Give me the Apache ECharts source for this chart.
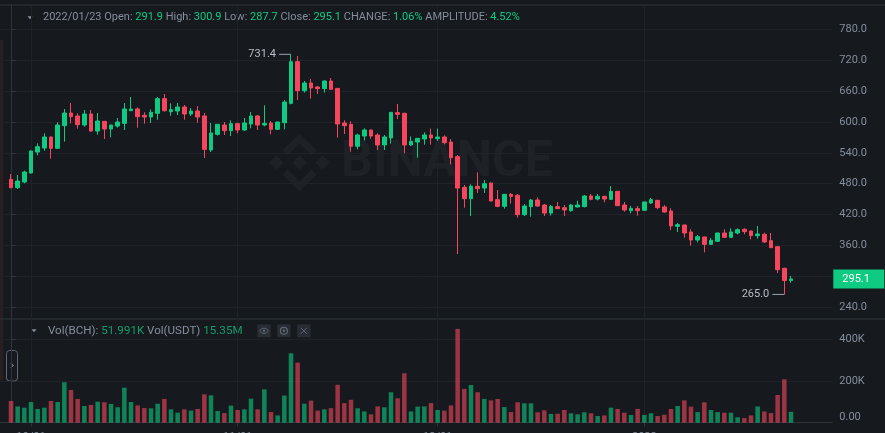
<!DOCTYPE html>
<html>
<head>
<meta charset="utf-8">
<script src="https://cdn.jsdelivr.net/npm/echarts@6/dist/echarts.min.js"></script>
<style>
html,body{margin:0;padding:0;background:#161a1e;}
#main{width:885px;height:433px;}
</style>
</head>
<body>
<div id="main"></div>
<script>
// BCH/USDT daily candles, 2021/09/28 - 2022/01/23
var dates = [
'2021/09/28','2021/09/29','2021/09/30',
'2021/10/01','2021/10/02','2021/10/03','2021/10/04','2021/10/05','2021/10/06','2021/10/07','2021/10/08','2021/10/09','2021/10/10',
'2021/10/11','2021/10/12','2021/10/13','2021/10/14','2021/10/15','2021/10/16','2021/10/17','2021/10/18','2021/10/19','2021/10/20',
'2021/10/21','2021/10/22','2021/10/23','2021/10/24','2021/10/25','2021/10/26','2021/10/27','2021/10/28','2021/10/29','2021/10/30','2021/10/31',
'2021/11/01','2021/11/02','2021/11/03','2021/11/04','2021/11/05','2021/11/06','2021/11/07','2021/11/08','2021/11/09','2021/11/10',
'2021/11/11','2021/11/12','2021/11/13','2021/11/14','2021/11/15','2021/11/16','2021/11/17','2021/11/18','2021/11/19','2021/11/20',
'2021/11/21','2021/11/22','2021/11/23','2021/11/24','2021/11/25','2021/11/26','2021/11/27','2021/11/28','2021/11/29','2021/11/30',
'2021/12/01','2021/12/02','2021/12/03','2021/12/04','2021/12/05','2021/12/06','2021/12/07','2021/12/08','2021/12/09','2021/12/10',
'2021/12/11','2021/12/12','2021/12/13','2021/12/14','2021/12/15','2021/12/16','2021/12/17','2021/12/18','2021/12/19','2021/12/20',
'2021/12/21','2021/12/22','2021/12/23','2021/12/24','2021/12/25','2021/12/26','2021/12/27','2021/12/28','2021/12/29','2021/12/30','2021/12/31',
'2022/01/01','2022/01/02','2022/01/03','2022/01/04','2022/01/05','2022/01/06','2022/01/07','2022/01/08','2022/01/09','2022/01/10',
'2022/01/11','2022/01/12','2022/01/13','2022/01/14','2022/01/15','2022/01/16','2022/01/17','2022/01/18','2022/01/19','2022/01/20',
'2022/01/21','2022/01/22','2022/01/23'
];
var opens = [488.5,472.4,483.4,500.9,541.6,549.4,570.8,548.8,592.8,617.4,
611.6,594.1,615.5,582.4,601.2,586.3,592.1,597.3,621.9,625.2,
612.9,609.6,616.8,645.3,620.0,621.3,629.1,615.5,621.3,611.6,
545.5,576.0,594.1,583.1,596.7,584.4,596.0,611.6,594.1,598.0,
585.7,598.6,636.2,717.1,660.8,675.7,667.9,664.7,679.6,665.3,
598.0,595.4,552.7,572.7,584.4,574.7,555.3,568.9,618.1,616.8,
555.3,561.1,566.9,574.7,567.5,570.8,561.1,532.6,473.0,451.0,
475.0,471.7,481.4,449.0,436.1,459.4,457.5,419.9,435.5,448.4,
438.7,423.1,435.5,433.5,427.7,434.8,435.5,456.2,450.3,455.5,
449.7,465.3,438.7,427.7,431.6,428.4,442.6,447.8,434.9,427.1,
397.3,399.9,386.3,370.7,376.6,362.3,368.2,384.3,375.9,384.3,
391.5,388.2,379.2,381.8,369.5,357.8,315.7,291.9];
var closes = [472.4,485.3,502.8,543.6,552.0,570.8,548.8,594.1,617.4,610.3,
594.7,615.5,582.4,601.9,586.3,594.1,599.9,625.2,625.2,610.3,
609.6,618.7,645.3,621.9,623.9,629.1,615.5,621.3,609.6,546.8,
578.6,595.4,583.1,596.7,584.4,598.0,611.6,594.1,597.3,585.7,
599.9,638.8,717.1,660.8,675.7,666.0,664.7,679.6,663.4,596.0,
592.8,552.7,574.7,584.4,572.7,555.3,570.8,618.7,614.8,555.3,
562.4,568.2,574.7,568.9,570.8,559.8,530.6,471.7,451.0,475.0,
470.4,480.1,446.5,436.1,459.4,455.5,419.9,436.7,448.4,436.7,
423.1,436.1,431.6,429.0,438.7,438.7,456.2,449.7,455.5,450.3,
465.3,437.4,429.0,432.3,427.7,444.6,449.1,433.6,425.1,397.9,
400.5,384.3,370.7,377.2,362.3,370.1,384.3,375.9,386.3,390.8,
387.0,379.2,382.4,366.9,355.9,313.1,292.0,295.1];
var lows = [471.1,469.8,480.8,499.6,535.2,544.2,528.7,547.5,561.7,597.3,
587.0,590.9,581.1,575.3,566.9,570.1,588.9,584.4,621.0,588.9,
596.7,598.0,604.5,620.0,612.2,613.5,604.5,611.6,598.6,530.0,
541.6,573.4,574.7,572.7,577.9,582.4,587.6,584.4,591.5,576.0,
584.4,585.7,634.2,642.7,656.9,645.3,654.3,656.9,662.1,569.5,
576.6,542.3,546.8,563.7,567.5,545.5,545.5,557.9,605.8,539.1,
553.3,530.6,555.9,555.9,563.0,556.5,517.7,343.5,433.5,417.3,
462.0,462.0,445.8,434.2,431.6,441.3,414.1,417.3,416.0,435.5,
417.3,418.0,430.9,417.3,425.7,434.2,434.2,447.7,447.7,443.9,
448.4,436.8,425.8,422.6,418.0,427.8,440.7,430.3,423.8,390.2,
386.3,375.3,359.7,366.2,346.8,361.0,366.9,375.3,375.3,381.8,
381.8,372.0,373.3,364.9,355.2,306.7,265.0,287.7];
var highs = [498.9,497.0,505.4,544.9,558.5,577.9,571.4,599.3,625.2,636.8,
616.8,623.2,623.2,617.4,601.9,594.5,607.7,636.8,648.5,628.4,
618.7,624.5,648.5,654.3,636.2,636.8,633.0,627.1,631.0,617.4,
598.0,596.0,599.9,603.2,598.6,607.7,619.4,613.5,632.3,601.9,
600.6,642.7,731.4,728.1,679.6,683.5,669.9,680.5,685.4,666.0,
603.2,601.2,577.3,587.6,585.0,577.9,574.7,619.4,634.9,618.1,
572.1,568.9,579.9,587.0,587.0,574.0,566.9,535.8,477.5,478.8,
502.1,487.3,482.7,467.8,460.0,462.0,460.1,440.6,450.3,453.6,
440.6,438.7,444.5,438.7,440.6,447.1,458.1,460.1,460.1,456.8,
475.6,465.8,444.6,436.8,436.8,445.2,452.3,448.4,438.7,432.3,
403.8,400.5,391.5,380.5,377.2,374.6,385.0,391.5,393.4,393.4,
393.4,388.8,397.9,385.0,384.3,359.1,317.0,300.9];
var volumes = [104000,78000,72000,99000,66000,72000,104000,99000,194000,157000,
114000,80000,85000,101000,98000,90000,74000,168000,99000,83000,
70000,69000,91000,114000,64000,48000,64000,58000,66000,136000,
131000,56000,46000,82000,61000,64000,115000,64000,160000,51000,
35000,130000,333000,288000,91000,106000,58000,64000,70000,182000,
94000,110000,69000,54000,40000,78000,74000,146000,117000,237000,
54000,77000,78000,94000,61000,58000,83000,450000,162000,181000,
146000,114000,107000,114000,75000,51000,98000,93000,93000,50000,
59000,42000,43000,61000,45000,40000,50000,45000,32000,35000,
72000,66000,48000,37000,66000,37000,45000,32000,38000,66000,
80000,107000,77000,51000,98000,61000,51000,48000,48000,26000,
22000,35000,78000,54000,46000,133000,208000,51991];
var lastQuoteVolume = 15350000;

var priceTicks = [240,300,360,420,480,540,600,660,720,780];
var volumeTicks = [0,200000,400000];
var xTickDates = ['2021/10/01','2021/11/01','2021/12/01','2022/01/01'];
var xTickText = ['10/01','11/01','12/01','2022'];

var UP = '#0ECB81', DOWN = '#F6465D';
var VOL_UP = 'rgba(14,203,129,0.6)', VOL_DOWN = 'rgba(246,70,93,0.6)';
var TXT = '#848E9C', GRID = '#1f2329', AXIS = '#2f343b';
var FONT = 'Roboto, "Noto Sans", sans-serif';

var xTickIdx = xTickDates.map(function (d) { return dates.indexOf(d); });
var candleData = dates.map(function (d, i) { return [i, opens[i], closes[i], lows[i], highs[i]]; });
var volData = dates.map(function (d, i) {
  return { value: [i, volumes[i]], itemStyle: { color: closes[i] >= opens[i] ? VOL_UP : VOL_DOWN } };
});

var last = dates.length - 1;
var prevClose = closes[last - 1];
var change = (closes[last] - prevClose) / prevClose * 100;
var amplitude = (highs[last] - lows[last]) / prevClose * 100;
function fmtK(v) { return (v / 1000).toFixed(3) + 'K'; }
function fmtM(v) { return (v / 1e6).toFixed(2) + 'M'; }

var headerText = '{l|' + dates[last] + ' Open: }{v|' + opens[last].toFixed(1) + '}' +
  '{l| High: }{v|' + highs[last].toFixed(1) + '}' +
  '{l| Low: }{v|' + lows[last].toFixed(1) + '}' +
  '{l| Close: }{v|' + closes[last].toFixed(1) + '}' +
  '{l| CHANGE: }{v|' + change.toFixed(2) + '%}' +
  '{l| AMPLITUDE: }{v|' + amplitude.toFixed(2) + '%}';
var volText = '{l|Vol(BCH): }{v|' + fmtK(volumes[last]) + '}{l| Vol(USDT) }{v|' + fmtM(lastQuoteVolume) + '}';

// binance watermark logo
var lc = [299.5, 162.5];
function pts(arr) { return arr.map(function (p) { return [lc[0] + p[0], lc[1] + p[1]]; }); }
var wm = '#1e2227';
var logo = [
  [[0,-29],[17,-12],[12,-7],[0,-19],[-12,-7],[-17,-12]],
  [[0,29],[17,12],[12,7],[0,19],[-12,7],[-17,12]],
  [[-30,0],[-23,-7],[-16,0],[-23,7]],
  [[16,0],[23,-7],[30,0],[23,7]],
  [[-7,0],[0,-7],[7,0],[0,7]]
].map(function (p) { return { type: 'polygon', silent: true, shape: { points: pts(p) }, style: { fill: wm } }; });

var myChart = echarts.init(document.getElementById('main'));
var option = {
  backgroundColor: '#161a1e',
  animation: false,
  textStyle: { fontFamily: FONT },
  grid: [
    { left: 0, right: 52.7, top: 5, height: 314, outerBoundsMode: 'none', containLabel: false },
    { left: 0, right: 52.7, top: 319, height: 103.7, outerBoundsMode: 'none', containLabel: false }
  ],
  xAxis: [
    {
      type: 'value', gridIndex: 0, min: -1.65, max: 123.2,
      axisLine: { show: false }, axisLabel: { show: false },
      axisTick: { show: false, customValues: xTickIdx },
      splitLine: { show: true, lineStyle: { color: GRID } }
    },
    {
      type: 'value', gridIndex: 1, min: -1.65, max: 123.2,
      axisLine: { show: true, lineStyle: { color: AXIS } },
      axisTick: { show: true, length: 4, lineStyle: { color: AXIS }, customValues: xTickIdx },
      axisLabel: {
        show: true, customValues: xTickIdx, color: TXT, fontSize: 11, margin: 9,
        formatter: function (v) { var k = xTickIdx.indexOf(v); return k >= 0 ? xTickText[k] : ''; }
      },
      splitLine: { show: true, lineStyle: { color: GRID } }
    }
  ],
  yAxis: [
    {
      type: 'value', gridIndex: 0, position: 'right', min: 217.27, max: 827.2,
      axisLine: { show: true, lineStyle: { color: AXIS } },
      axisTick: { show: true, length: 5, lineStyle: { color: AXIS }, customValues: priceTicks },
      axisLabel: {
        customValues: priceTicks, color: TXT, fontSize: 11, margin: 7,
        formatter: function (v) { return v.toFixed(1); }
      },
      splitLine: { show: true, lineStyle: { color: GRID } }
    },
    {
      type: 'value', gridIndex: 1, position: 'right', min: 0, max: 497362,
      axisLine: { show: true, lineStyle: { color: AXIS } },
      axisTick: { show: true, length: 5, lineStyle: { color: AXIS }, customValues: volumeTicks },
      axisLabel: {
        customValues: volumeTicks, color: TXT, fontSize: 11, margin: 7,
        formatter: function (v) { return v === 0 ? '{z|0.00}' : (v / 1000) + 'K'; },
        rich: { z: { color: TXT, fontSize: 11, padding: [0, 0, 11, 0] } }
      },
      splitLine: { show: true, lineStyle: { color: GRID } }
    }
  ],
  series: [
    {
      type: 'candlestick', xAxisIndex: 0, yAxisIndex: 0, data: candleData, barWidth: 4,
      itemStyle: { color: UP, color0: DOWN, borderColor: UP, borderColor0: DOWN, borderWidth: 1 },
      markPoint: {
        silent: true, symbol: 'rect', symbolSize: [12, 1], symbolOffset: [-6, 0],
        itemStyle: { color: '#9aa1ab' },
        label: {
          show: true, position: 'left', distance: 3, color: '#b7bdc6', fontSize: 11,
          formatter: function (p) { return p.value.toFixed(1); }
        },
        data: [{ type: 'max', valueDim: 'highest' }, { type: 'min', valueDim: 'lowest' }]
      },
      markLine: {
        silent: true, symbol: ['none', 'none'], z: 10,
        lineStyle: { color: 'rgba(0,0,0,0)', width: 0, type: 'solid' },
        label: {
          show: true, position: 'end', distance: 1, color: '#fff', fontSize: 11,
          backgroundColor: UP, padding: [4, 0, 4, 9], width: 42,
          formatter: function (p) { return p.value.toFixed(1); }
        },
        emphasis: { disabled: true },
        data: [{ yAxis: closes[last] }]
      }
    },
    {
      type: 'bar', xAxisIndex: 1, yAxisIndex: 1, data: volData, barWidth: 4.5, clip: false
    }
  ],
  graphic: [
    { type: 'rect', silent: true, shape: { x: 0, y: 40, width: 3.3, height: 340 }, style: { fill: '#2a1e21' } },
    { type: 'line', silent: true, shape: { x1: 0, y1: 5, x2: 885, y2: 5 }, style: { stroke: AXIS, lineWidth: 1 } },
    { type: 'line', silent: true, shape: { x1: 0, y1: 319, x2: 885, y2: 319 }, style: { stroke: AXIS, lineWidth: 1 } },
    { type: 'polygon', silent: true, shape: { points: [[27.5,16.3],[32.5,16.3],[30,19.3]] }, style: { fill: TXT } },
    {
      type: 'text', silent: true, x: 43, y: 17.5,
      style: { text: headerText, verticalAlign: 'middle', font: '11px ' + FONT,
        rich: { l: { fill: TXT, fontSize: 11, fontFamily: FONT }, v: { fill: UP, fontSize: 11, fontFamily: FONT } } }
    },
    { type: 'polygon', silent: true, shape: { points: [[31.5,329.3],[36.5,329.3],[34,332.3]] }, style: { fill: TXT } },
    {
      type: 'text', silent: true, x: 48, y: 330.7,
      style: { text: volText, verticalAlign: 'middle', font: '11.6px ' + FONT,
        rich: { l: { fill: TXT, fontSize: 11.6, fontFamily: FONT }, v: { fill: '#129e6a', fontSize: 11.6, fontFamily: FONT } } }
    },
    { type: 'rect', silent: true, shape: { x: 257.3, y: 324.3, width: 13.4, height: 13, r: 1 }, style: { fill: '#282c33' } },
    { type: 'rect', silent: true, shape: { x: 277.2, y: 324.3, width: 13.4, height: 13, r: 1 }, style: { fill: '#282c33' } },
    { type: 'rect', silent: true, shape: { x: 297.1, y: 324.3, width: 13.4, height: 13, r: 1 }, style: { fill: '#282c33' } },
    { type: 'ellipse', silent: true, shape: { cx: 264, cy: 330.8, rx: 4, ry: 2.6 }, style: { fill: 'none', stroke: '#5e6673', lineWidth: 1 } },
    { type: 'circle', silent: true, shape: { cx: 264, cy: 330.8, r: 1.2 }, style: { fill: '#5e6673' } },
    { type: 'circle', silent: true, shape: { cx: 283.9, cy: 330.8, r: 3.5 }, style: { fill: 'none', stroke: '#5e6673', lineWidth: 1.2 } },
    { type: 'circle', silent: true, shape: { cx: 283.9, cy: 330.8, r: 1.2 }, style: { fill: '#5e6673' } },
    { type: 'line', silent: true, shape: { x1: 300.8, y1: 327.8, x2: 306.8, y2: 333.8 }, style: { stroke: '#5e6673', lineWidth: 1 } },
    { type: 'line', silent: true, shape: { x1: 306.8, y1: 327.8, x2: 300.8, y2: 333.8 }, style: { stroke: '#5e6673', lineWidth: 1 } },
    { type: 'rect', silent: true, shape: { x: 6.5, y: 350.5, width: 11, height: 30.5, r: 3 }, style: { fill: '#161a1e', stroke: '#5e6673', lineWidth: 1 } },
    { type: 'polyline', silent: true, shape: { points: [[11,363.5],[13,365.5],[11,367.5]] }, style: { stroke: '#c5cad1', lineWidth: 1, fill: 'none' } },
    {
      type: 'group', silent: true, children: logo.concat([
        { type: 'text', silent: true, x: 341, y: 163,
          style: { text: 'BINANCE', fill: wm, verticalAlign: 'middle', font: 'bold 50px ' + FONT } }
      ])
    }
  ]
};
myChart.setOption(option);
</script>
</body>
</html>
